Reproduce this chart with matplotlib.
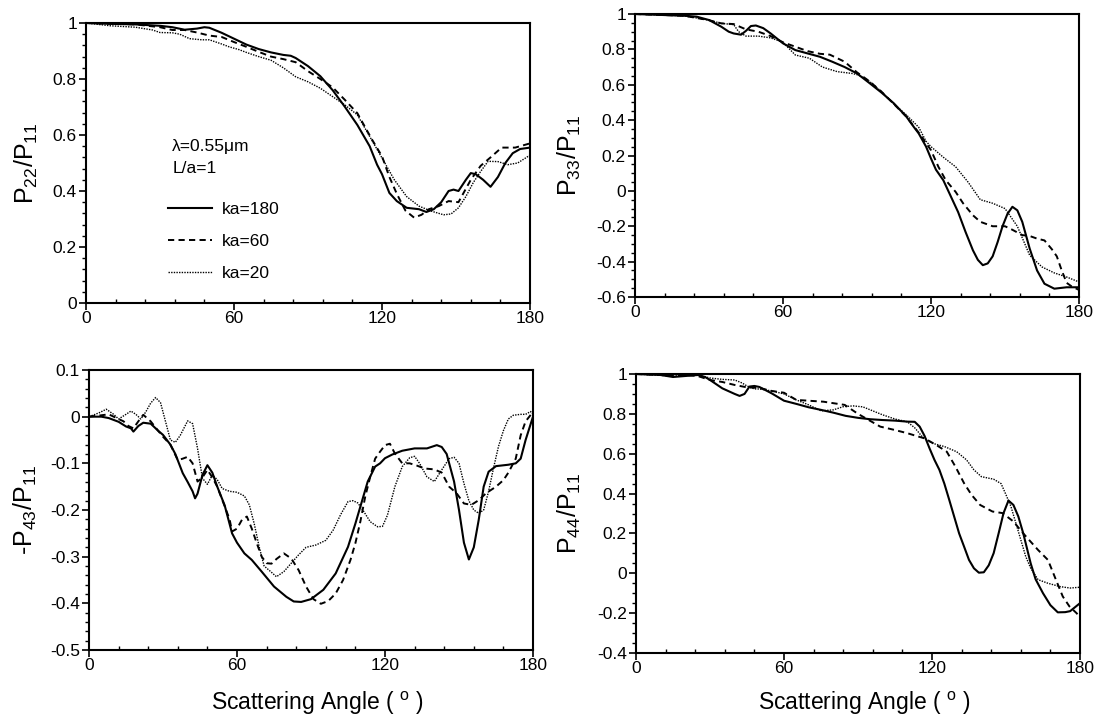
import matplotlib
matplotlib.use("Agg")
import matplotlib.pyplot as plt
from matplotlib.ticker import MultipleLocator, FixedLocator

plt.rcParams['font.family'] = ['Liberation Sans', 'DejaVu Sans']
plt.rcParams['mathtext.fontset'] = 'custom'
plt.rcParams['mathtext.rm'] = 'Liberation Sans'
plt.rcParams['mathtext.it'] = 'Liberation Sans'

# ---------------- Data ----------------
series_labels = ["ka=180", "ka=60", "ka=20"]

# Panel 1: P22/P11
p22_x_180 = [0, 10, 20, 30, 35, 40, 45, 48, 50, 55, 60, 65, 70, 75, 80, 83, 85, 90, 95, 100, 105, 110, 115, 118, 120, 123, 126, 130, 135, 138, 141, 144, 147, 149, 151, 154, 156, 158, 161, 164, 167, 170, 173, 176, 180]
p22_y_180 = [1.0, 0.997, 0.995, 0.99, 0.985, 0.976, 0.98, 0.985, 0.983, 0.965, 0.944, 0.923, 0.907, 0.895, 0.886, 0.883, 0.875, 0.846, 0.81, 0.76, 0.70, 0.636, 0.56, 0.494, 0.46, 0.393, 0.364, 0.34, 0.335, 0.325, 0.335, 0.36, 0.40, 0.405, 0.40, 0.44, 0.464, 0.46, 0.44, 0.415, 0.45, 0.50, 0.535, 0.55, 0.555]
p22_x_60 = [0, 20, 30, 35, 40, 45, 50, 55, 60, 65, 70, 75, 80, 85, 90, 95, 100, 105, 110, 116, 120, 123, 126, 129.5, 133, 136, 139, 143, 147, 151, 156, 160, 164, 168.5, 174, 180]
p22_y_60 = [1.0, 0.995, 0.985, 0.975, 0.975, 0.966, 0.955, 0.95, 0.932, 0.915, 0.897, 0.88, 0.871, 0.86, 0.828, 0.80, 0.77, 0.725, 0.678, 0.583, 0.524, 0.45, 0.39, 0.33, 0.305, 0.315, 0.335, 0.346, 0.364, 0.36, 0.44, 0.49, 0.52, 0.555, 0.555, 0.57]
p22_x_20 = [0, 10, 20, 27, 30, 35, 38, 42, 47, 50, 55, 58, 62, 65, 70, 75, 80, 85, 90, 95, 100, 105, 110, 115, 120, 125, 130, 135, 140, 145, 148, 151, 154, 157, 160, 163, 167, 171, 175, 180]
p22_y_20 = [1.0, 0.99, 0.985, 0.975, 0.966, 0.965, 0.96, 0.944, 0.94, 0.94, 0.925, 0.915, 0.905, 0.895, 0.88, 0.867, 0.84, 0.808, 0.79, 0.767, 0.737, 0.707, 0.672, 0.595, 0.518, 0.44, 0.38, 0.346, 0.328, 0.315, 0.318, 0.34, 0.38, 0.43, 0.47, 0.506, 0.505, 0.494, 0.50, 0.528]

# Panel 2: P33/P11
p33_x_180 = [0, 10, 20, 25, 30, 35, 38, 40, 43, 45, 47, 49, 52, 55, 60, 65, 70, 75, 80, 85, 90, 95, 100, 105, 110, 113, 115, 118, 120, 122, 125, 128, 131, 134, 137, 139, 141, 143, 145, 147, 149, 151, 153, 155, 157, 160, 163, 166, 170, 175, 180]
p33_y_180 = [1.0, 0.995, 0.99, 0.985, 0.966, 0.928, 0.90, 0.89, 0.883, 0.905, 0.932, 0.935, 0.92, 0.89, 0.834, 0.796, 0.777, 0.758, 0.73, 0.70, 0.664, 0.61, 0.555, 0.494, 0.42, 0.362, 0.325, 0.25, 0.183, 0.12, 0.06, -0.03, -0.12, -0.232, -0.336, -0.39, -0.42, -0.41, -0.37, -0.29, -0.20, -0.13, -0.09, -0.11, -0.175, -0.326, -0.45, -0.525, -0.553, -0.545, -0.545]
p33_x_60 = [0, 20, 30, 35, 40, 45, 50, 55, 60, 65, 70, 75, 79, 85, 90, 95, 100, 105, 110, 115, 118, 120, 123, 126, 130, 133, 137, 140, 145, 150, 153, 157, 160, 163, 166, 169, 171, 173, 175, 177, 180]
p33_y_60 = [1.0, 0.99, 0.965, 0.947, 0.943, 0.913, 0.90, 0.875, 0.84, 0.815, 0.79, 0.775, 0.77, 0.73, 0.67, 0.62, 0.56, 0.49, 0.42, 0.33, 0.27, 0.23, 0.136, 0.06, -0.006, -0.07, -0.138, -0.175, -0.20, -0.20, -0.22, -0.25, -0.255, -0.27, -0.28, -0.33, -0.37, -0.45, -0.52, -0.54, -0.56]
p33_x_20 = [0, 20, 30, 35, 40, 42, 45, 50, 55, 60, 65, 70.7, 76, 82, 88, 90.6, 95, 100, 105, 110, 115, 118, 120, 125, 130, 135, 140, 145, 150, 155, 160, 165, 170, 175, 180]
p33_y_20 = [1.0, 0.99, 0.965, 0.947, 0.94, 0.90, 0.875, 0.875, 0.865, 0.84, 0.768, 0.75, 0.70, 0.674, 0.664, 0.655, 0.62, 0.56, 0.49, 0.43, 0.36, 0.28, 0.25, 0.19, 0.136, 0.05, -0.05, -0.07, -0.10, -0.20, -0.364, -0.43, -0.464, -0.487, -0.515]

# Panel 3: -P43/P11
p43_x_180 = [0, 5, 8, 12, 15, 17, 18, 20, 22, 25, 28, 30, 33, 35, 38, 40, 42, 43, 44, 46, 48, 50, 52, 55, 58, 60, 63, 66, 70, 75, 80, 83, 86, 90, 95, 100, 105, 108, 110, 113, 116, 118, 120, 123, 127, 132, 137, 141, 143, 145, 148, 150, 152, 154, 156, 158, 160, 162, 165, 170, 173, 175, 177, 180]
p43_y_180 = [0.0, 0.0, -0.003, -0.011, -0.021, -0.025, -0.032, -0.02, -0.013, -0.015, -0.03, -0.039, -0.06, -0.08, -0.121, -0.14, -0.16, -0.175, -0.165, -0.125, -0.104, -0.12, -0.15, -0.19, -0.25, -0.27, -0.293, -0.307, -0.332, -0.364, -0.386, -0.396, -0.397, -0.391, -0.371, -0.336, -0.279, -0.229, -0.193, -0.139, -0.107, -0.10, -0.089, -0.081, -0.073, -0.068, -0.068, -0.061, -0.065, -0.08, -0.139, -0.20, -0.27, -0.306, -0.28, -0.221, -0.15, -0.118, -0.106, -0.103, -0.10, -0.09, -0.05, 0.0]
p43_x_60 = [0, 5, 8, 12, 14, 16, 18, 20, 22, 25, 28, 30, 33, 35, 36, 38, 40, 42, 44, 46, 48, 50, 52, 53.5, 57, 58, 60, 62, 64, 66, 68, 70, 72, 74, 76, 79, 82, 85, 88, 91, 94, 97, 100, 103, 106, 108, 110, 112, 114, 116, 118, 120, 122, 124, 127, 130, 133, 136, 140, 143, 146, 149, 152, 155, 158, 161, 165, 168, 170, 173, 175, 177, 180]
p43_y_60 = [0.0, 0.003, 0.005, -0.005, -0.01, -0.02, -0.025, -0.01, 0.004, -0.01, -0.03, -0.043, -0.06, -0.082, -0.093, -0.09, -0.086, -0.10, -0.139, -0.13, -0.114, -0.13, -0.15, -0.171, -0.22, -0.246, -0.24, -0.221, -0.214, -0.24, -0.271, -0.30, -0.314, -0.315, -0.305, -0.293, -0.304, -0.329, -0.364, -0.391, -0.401, -0.395, -0.379, -0.35, -0.307, -0.271, -0.225, -0.171, -0.129, -0.09, -0.075, -0.061, -0.058, -0.079, -0.10, -0.10, -0.105, -0.111, -0.113, -0.12, -0.15, -0.164, -0.186, -0.189, -0.179, -0.164, -0.15, -0.136, -0.12, -0.09, -0.04, -0.01, 0.01]
p43_x_20 = [0, 4, 7, 10, 12, 15, 17, 19, 21, 23, 25, 27, 29, 31, 33, 35, 37, 40, 42, 44, 46, 48, 50, 52, 54, 57, 60, 63, 65, 67, 69, 71, 73, 76, 79, 82, 85, 88, 92, 96, 99, 102, 105, 107, 109, 111, 114, 117, 119, 121, 124, 127, 130, 132, 134, 137, 140, 143, 146, 148, 150, 152, 154, 156, 158, 160, 162, 164, 166, 168, 170, 172, 175, 177, 179, 180]
p43_y_20 = [0.0, 0.008, 0.016, 0.005, -0.005, 0.005, 0.012, 0.005, -0.005, 0.01, 0.029, 0.041, 0.03, -0.01, -0.05, -0.055, -0.04, -0.009, -0.015, -0.068, -0.132, -0.145, -0.125, -0.135, -0.154, -0.16, -0.162, -0.17, -0.189, -0.23, -0.279, -0.32, -0.329, -0.343, -0.332, -0.314, -0.296, -0.28, -0.275, -0.265, -0.243, -0.21, -0.182, -0.18, -0.185, -0.20, -0.225, -0.236, -0.235, -0.211, -0.15, -0.107, -0.088, -0.085, -0.10, -0.129, -0.139, -0.114, -0.09, -0.087, -0.10, -0.143, -0.18, -0.20, -0.207, -0.20, -0.16, -0.11, -0.064, -0.03, -0.005, 0.003, 0.005, 0.005, 0.011, 0.005]

# Panel 4: P44/P11
p44_x_180 = [0, 10, 15, 20, 25, 28, 30, 35, 40, 42, 44, 46, 48, 50, 55, 60, 65, 70, 75, 80, 85, 90, 95, 100, 105, 110, 113, 115, 117, 119, 121, 123, 125, 127, 129, 131, 133, 135, 137, 139, 141, 143, 145, 147, 149, 151, 153, 155, 157, 160, 162, 165, 168, 171, 174, 176, 178, 180]
p44_y_180 = [1.0, 0.995, 0.985, 0.99, 0.995, 0.985, 0.97, 0.928, 0.90, 0.89, 0.90, 0.937, 0.94, 0.935, 0.903, 0.866, 0.85, 0.833, 0.82, 0.806, 0.79, 0.78, 0.773, 0.769, 0.766, 0.761, 0.76, 0.736, 0.689, 0.627, 0.569, 0.519, 0.45, 0.368, 0.284, 0.20, 0.134, 0.067, 0.025, 0.003, 0.005, 0.04, 0.101, 0.20, 0.302, 0.365, 0.343, 0.285, 0.20, 0.05, -0.03, -0.10, -0.16, -0.196, -0.195, -0.19, -0.17, -0.15]
p44_x_60 = [0, 10, 15, 20, 25, 30, 35, 40, 45, 50, 55, 60, 65, 76, 84.6, 90, 99, 104.6, 110, 114.5, 117, 121.7, 126, 129.5, 133, 136, 139.5, 144.5, 148.6, 153, 157, 163, 167, 170, 173, 175.7, 178.6, 180]
p44_y_60 = [1.0, 0.995, 0.99, 0.995, 0.99, 0.97, 0.96, 0.945, 0.933, 0.93, 0.915, 0.906, 0.87, 0.861, 0.845, 0.80, 0.736, 0.72, 0.703, 0.686, 0.677, 0.644, 0.61, 0.535, 0.452, 0.394, 0.343, 0.31, 0.302, 0.26, 0.20, 0.117, 0.067, -0.025, -0.116, -0.166, -0.20, -0.22]
p44_x_20 = [0, 15, 25, 30, 35, 40, 43, 45, 48, 50, 55, 60, 65, 70, 75, 80, 84, 88, 92, 96, 100, 105, 110, 113, 116, 120, 125, 130, 134, 137, 140, 145, 148, 150, 152, 155, 158, 160, 163, 167, 172, 176, 180]
p44_y_20 = [1.0, 0.99, 0.995, 0.98, 0.973, 0.97, 0.955, 0.94, 0.925, 0.925, 0.915, 0.90, 0.87, 0.845, 0.815, 0.82, 0.836, 0.84, 0.835, 0.815, 0.795, 0.774, 0.76, 0.73, 0.686, 0.653, 0.636, 0.61, 0.569, 0.519, 0.485, 0.472, 0.45, 0.394, 0.335, 0.21, 0.084, 0.026, -0.032, -0.05, -0.067, -0.074, -0.07]

x_ticks = [0, 60, 120, 180]
ylabels = [r'P$_{22}$/P$_{11}$', r'P$_{33}$/P$_{11}$', r'-P$_{43}$/P$_{11}$', r'P$_{44}$/P$_{11}$']
xlabel_text = r'Scattering Angle ( $^{\mathrm{o}}$ )'
annot_lines = [u'\u03bb=0.55\u03bcm', 'L/a=1']

# ---------------- Figure ----------------
fig = plt.figure(figsize=(11.0, 7.17), dpi=100)
W, H = 1100.0, 717.0
def rect(l, t, r, b):
    return [l / W, 1 - b / H, (r - l) / W, (b - t) / H]

ax1 = fig.add_axes(rect(86, 23, 530, 303))
ax2 = fig.add_axes(rect(635, 14, 1079, 297))
ax3 = fig.add_axes(rect(89, 370, 533, 650))
ax4 = fig.add_axes(rect(636, 374, 1080, 653))

styles = [dict(color='black', lw=1.5, ls='-'),
          dict(color='black', lw=1.4, ls=(0, (3.2, 2.2))),
          dict(color='black', lw=1.0, ls=(0, (1.0, 0.9)))]

data = [
    (ax1, [(p22_x_180, p22_y_180), (p22_x_60, p22_y_60), (p22_x_20, p22_y_20)], (0, 1), 0.2, 0.04, -0.104, None),
    (ax2, [(p33_x_180, p33_y_180), (p33_x_60, p33_y_60), (p33_x_20, p33_y_20)], (-0.6, 1), 0.2, 0.05, -0.117, None),
    (ax3, [(p43_x_180, p43_y_180), (p43_x_60, p43_y_60), (p43_x_20, p43_y_20)], (-0.5, 0.1), 0.1, 0.02, -0.113, -0.143),
    (ax4, [(p44_x_180, p44_y_180), (p44_x_60, p44_y_60), (p44_x_20, p44_y_20)], (-0.4, 1), 0.2, 0.05, -0.119, -0.133),
]

def fmt(v, pos=None):
    if abs(v) < 1e-9:
        return '0'
    if abs(v - round(v)) < 1e-9:
        return '%d' % round(v)
    return '%.1f' % v

for i, (ax, curves, ylim, major, minor, lx, ly) in enumerate(data):
    lines = []
    for (xs, ys), st, lab in zip(curves, styles, series_labels):
        ln, = ax.plot(xs, ys, label=lab, **st)
        lines.append(ln)
    ax.set_xlim(0, 180)
    ax.set_ylim(*ylim)
    ax.xaxis.set_major_locator(FixedLocator(x_ticks))
    ax.xaxis.set_minor_locator(MultipleLocator(12))
    ax.yaxis.set_major_locator(MultipleLocator(major))
    ax.yaxis.set_minor_locator(MultipleLocator(minor))
    ax.yaxis.set_major_formatter(plt.FuncFormatter(fmt))
    ax.tick_params(axis='y', which='major', direction='out', length=5, width=1.2, labelsize=12.5, pad=1.5)
    ax.tick_params(axis='y', which='minor', direction='out', length=3, width=1.0)
    ax.tick_params(axis='x', which='major', direction='out', length=5, width=1.2, labelsize=12.5, pad=0.5)
    ax.tick_params(axis='x', which='minor', direction='in', length=3, width=1.0)
    for sp in ax.spines.values():
        sp.set_linewidth(1.5)
    ax.set_ylabel(ylabels[i], fontsize=18)
    ax.yaxis.set_label_coords(lx, 0.5)
    if ly is not None:
        ax.set_xlabel(xlabel_text, fontsize=16.5)
        ax.xaxis.set_label_coords(0.513, ly)
    if i == 0:
        ax.text(0.194, 0.543, annot_lines[0], transform=ax.transAxes, fontsize=12.5, va='baseline', ha='left')
        ax.text(0.194, 0.466, annot_lines[1], transform=ax.transAxes, fontsize=12.5, va='baseline', ha='left')
        ax.legend(handles=lines, loc='upper left', bbox_to_anchor=(0.185, 0.36), frameon=False,
                  fontsize=12.5, handlelength=2.5, handletextpad=0.6, labelspacing=0.95,
                  borderpad=0, borderaxespad=0)

fig.savefig('out.png', dpi=100)
